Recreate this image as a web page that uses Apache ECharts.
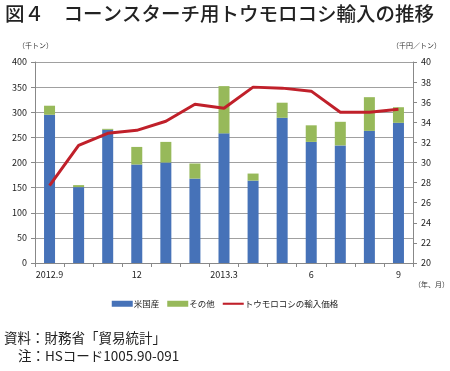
<!DOCTYPE html>
<html><head><meta charset="utf-8">
<script src="https://cdn.jsdelivr.net/npm/echarts@6/dist/echarts.min.js"></script>
<style>html,body{margin:0;padding:0;background:#fff}#c{width:450px;height:371px}</style>
</head><body><div id="c"></div>
<script>
const categories = ["2012.9","10","11","12","2013.1","2","2013.3","4","5","6","7","8","9"];
const xLabels = {"2012.9":"2012.9","12":"12","2013.3":"2013.3","6":"6","9":"9"};
const usa = [295,151,265,196,200,168,258,164,289,241,234,263,279];
const totals = [313,155,267,231,241,198,352,178,319,274,281,330,310];
const others = totals.map((t,i)=>t-usa[i]);
const price = [27.7,31.7,32.9,33.2,34.1,35.8,35.4,37.5,37.4,37.1,35.0,35.0,35.3];
const leftTicks = [0,50,100,150,200,250,300,350,400];
const rightTicks = [20,22,24,26,28,30,32,34,36,38,40];

const FONT = '"Noto Sans CJK JP", sans-serif';
const chart = echarts.init(document.getElementById('c'), null, {renderer:'canvas'});
chart.setOption({
  animation:false,
  textStyle:{fontFamily:FONT},
  grid:{left:35,right:37,top:62,bottom:108},
  legend:{
    bottom:58, left:'center', itemGap:8, itemWidth:21, itemHeight:6,
    textStyle:{fontSize:8.5,color:'#222',fontFamily:FONT,padding:[0,0,0,-4]},
    data:[{name:'米国産',icon:'rect'},{name:'その他',icon:'rect'},
          {name:'トウモロコシの輸入価格',icon:'path://M0,0H30V3H0Z'}]
  },
  xAxis:{
    type:'category', data:categories, boundaryGap:true,
    axisLine:{lineStyle:{color:'#888',width:1}},
    axisTick:{show:true,alignWithLabel:false,interval:0,length:4,lineStyle:{color:'#888'}},
    axisLabel:{interval:0,fontSize:9,color:'#222',margin:7,formatter:v=>xLabels[v]||''}
  },
  yAxis:[
    {type:'value',min:leftTicks[0],max:leftTicks[leftTicks.length-1],interval:50,
     axisLine:{show:true,lineStyle:{color:'#888'}},
     axisTick:{show:true,length:4,lineStyle:{color:'#888'}},
     axisLabel:{fontSize:9,color:'#222',margin:8},
     splitLine:{lineStyle:{color:'#a0a0a0',width:1}}},
    {type:'value',min:rightTicks[0],max:rightTicks[rightTicks.length-1],interval:2,position:'right',
     axisLine:{show:true,lineStyle:{color:'#888'}},
     axisTick:{show:true,length:4,lineStyle:{color:'#888'}},
     axisLabel:{fontSize:9,color:'#222',margin:8},
     splitLine:{show:false}}
  ],
  series:[
    {name:'米国産',type:'bar',stack:'a',data:usa,barWidth:11,itemStyle:{color:'#4672b8'}},
    {name:'その他',type:'bar',stack:'a',data:others,barWidth:11,itemStyle:{color:'#97b95a'}},
    {name:'トウモロコシの輸入価格',type:'line',yAxisIndex:1,data:price,symbol:'none',
     lineStyle:{color:'#c0202a',width:3},itemStyle:{color:'#c0202a'}}
  ],
  graphic:[
    {type:'text',left:5,top:4,style:{text:'図４　コーンスターチ用トウモロコシ輸入の推移',font:'500 19.5px '+FONT,fill:'#222'}},
    {type:'text',left:18,top:42,style:{text:'（千トン）',font:'7px '+FONT,fill:'#333'}},
    {type:'text',left:392,top:42,style:{text:'（千円／トン）',font:'7px '+FONT,fill:'#333'}},
    {type:'text',left:414,top:281,style:{text:'（年、月）',font:'7px '+FONT,fill:'#333'}},
    {type:'text',left:4,top:331,style:{text:'資料：財務省「貿易統計」',font:'13.5px '+FONT,fill:'#222'}},
    {type:'text',left:18,top:349,style:{text:'注：HSコード1005.90-091',font:'13.5px '+FONT,fill:'#222'}}
  ]
});
</script></body></html>
